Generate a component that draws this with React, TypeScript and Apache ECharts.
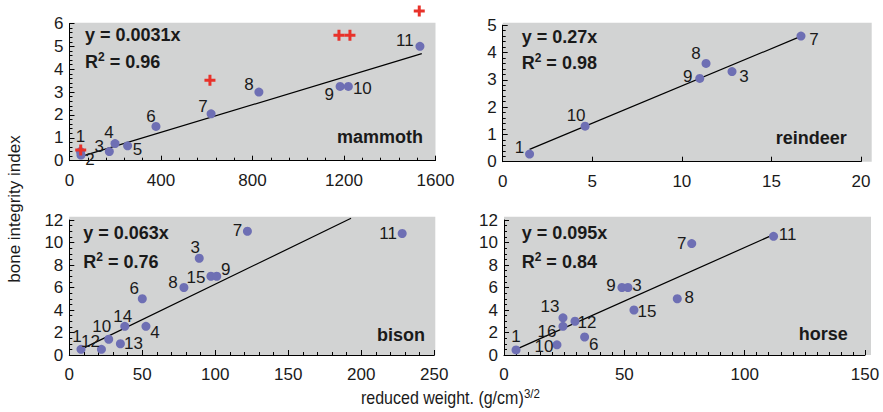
import React, { useEffect, useRef } from "react";
import * as echarts from "echarts";

const FONT = "'Liberation Sans', Arial, Helvetica, sans-serif";

// ---------- data ----------
const mammothNames = ["1", "2", "3", "4", "5", "6", "7", "8", "9", "10", "11"];
const mammothX = [48, 50, 174, 199, 254, 378, 619, 828, 1183, 1219, 1532];
const mammothY = [0.4, 0.25, 0.4, 0.75, 0.65, 1.5, 2.05, 3.0, 3.25, 3.25, 5.0];
const mammothRedX = [49, 614, 1178, 1226, 1529];
const mammothRedY = [0.47, 3.52, 5.49, 5.49, 6.55];
const mammothFitX = [55, 1540];
const mammothFitY = [0.2, 4.68];
const mammothXTicks = [0, 400, 800, 1200, 1600];
const mammothYTicks = [0, 1, 2, 3, 4, 5, 6];
const mammothEq = "y = 0.0031x";
const mammothR2 = "0.96";

const reindeerNames = ["1", "10", "9", "8", "3", "7"];
const reindeerX = [1.5, 4.6, 11.0, 11.35, 12.8, 16.65];
const reindeerY = [0.28, 1.3, 3.05, 3.6, 3.3, 4.6];
const reindeerFitX = [1.5, 16.6];
const reindeerFitY = [0.45, 4.58];
const reindeerXTicks = [0, 5, 10, 15, 20];
const reindeerYTicks = [0, 1, 2, 3, 4, 5];
const reindeerEq = "y = 0.27x";
const reindeerR2 = "0.98";

const bisonNames = ["1", "12", "10", "13", "14", "4", "6", "8", "15", "9", "3", "7", "11"];
const bisonX = [8, 22, 27, 35, 38, 52.5, 50, 78.5, 97, 101, 89, 122, 228];
const bisonY = [0.5, 0.5, 1.4, 1.0, 2.55, 2.55, 5.0, 6.0, 7.0, 7.0, 8.6, 11.0, 10.8];
const bisonFitX = [8, 193];
const bisonFitY = [0.5, 12.15];
const bisonXTicks = [0, 50, 100, 150, 200, 250];
const bisonYTicks = [0, 2, 4, 6, 8, 10, 12];
const bisonEq = "y = 0.063x";
const bisonR2 = "0.76";

const horseNames = ["1", "10", "16", "13", "12", "6", "9", "3", "15", "8", "7", "11"];
const horseX = [5, 22, 24.5, 24.5, 29.5, 33.5, 49, 51.5, 54, 72, 78, 112];
const horseY = [0.45, 0.9, 2.55, 3.3, 3.0, 1.6, 6.0, 6.0, 4.0, 5.0, 9.9, 10.55];
const horseFitX = [5, 112];
const horseFitY = [0.5, 10.7];
const horseXTicks = [0, 50, 100, 150];
const horseYTicks = [0, 2, 4, 6, 8, 10, 12];
const horseEq = "y = 0.095x";
const horseR2 = "0.84";

// ---------- layout (label offsets in px, panel boxes) ----------
const mammothOffsets = [[0, -15], [9, 5], [-10, -5], [-6, -11], [10, 4], [-5, -10], [-8, -7], [-10, -8], [-11, 8], [14, 2], [-15, -6]];
const reindeerOffsets = [[-10, -7], [-9, -11], [-12, -2], [-10, -10], [12, 5], [13, 3]];
const bisonOffsets = [[-4, -13], [-11, -8], [-7, -13], [13, 0], [-2, -10], [9, 6], [-8, -10], [-11, -5], [-15, 1], [9, -7], [-4, -11], [-10, -1], [-14, 0]];
const horseOffsets = [[0, -13], [-13, 2], [-16, 5], [-13, -11], [12, 1], [9, 7], [-11, -2], [9, -2], [13, 1], [12, -1], [-10, 0], [14, -2]];

const panels = [
  {
    name: "mammoth", names: mammothNames, xs: mammothX, ys: mammothY, offs: mammothOffsets,
    fitX: mammothFitX, fitY: mammothFitY, xTicks: mammothXTicks, yTicks: mammothYTicks,
    xMinor: 5, yMinor: 5, eq: mammothEq, r2: mammothR2,
    grid: { left: 69.5, top: 23.5, width: 366, height: 137.2 },
    bg: { x: 69.5, y: 22.7, width: 366, height: 138 },
    eqPos: [85, 35], r2Pos: [85, 62], namePos: [423, 137],
  },
  {
    name: "reindeer", names: reindeerNames, xs: reindeerX, ys: reindeerY, offs: reindeerOffsets,
    fitX: reindeerFitX, fitY: reindeerFitY, xTicks: reindeerXTicks, yTicks: reindeerYTicks,
    xMinor: 0, yMinor: 5, eq: reindeerEq, r2: reindeerR2,
    grid: { left: 502.7, top: 25.2, width: 358.3, height: 136.5 },
    bg: { x: 502.7, y: 22.7, width: 369, height: 139 },
    eqPos: [521.7, 36.7], r2Pos: [521.7, 63], namePos: [846.7, 138.3],
  },
  {
    name: "bison", names: bisonNames, xs: bisonX, ys: bisonY, offs: bisonOffsets,
    fitX: bisonFitX, fitY: bisonFitY, xTicks: bisonXTicks, yTicks: bisonYTicks,
    xMinor: 5, yMinor: 4, eq: bisonEq, r2: bisonR2,
    grid: { left: 69.3, top: 220, width: 365, height: 135 },
    bg: { x: 69.3, y: 216.7, width: 366, height: 138.3 },
    eqPos: [83.3, 233.3], r2Pos: [83.3, 261.7], namePos: [425, 335],
  },
  {
    name: "horse", names: horseNames, xs: horseX, ys: horseY, offs: horseOffsets,
    fitX: horseFitX, fitY: horseFitY, xTicks: horseXTicks, yTicks: horseYTicks,
    xMinor: 10, yMinor: 4, eq: horseEq, r2: horseR2,
    grid: { left: 504, top: 220, width: 361, height: 135 },
    bg: { x: 504, y: 216.7, width: 367, height: 138.3 },
    eqPos: [521.7, 233.3], r2Pos: [521.7, 261.7], namePos: [847.7, 334.3],
  },
];

const PLUS = "path://M4,0H7V4H11V7H7V11H4V7H0V4H4Z";
const DOT = "#6e6fb4";
const BG = "#d2d3d3";

function axisBase(gridIndex: number, ticks: number[], minor: number, margin: number) {
  return {
    type: "value",
    gridIndex,
    min: ticks[0],
    max: ticks[ticks.length - 1],
    interval: ticks[1] - ticks[0],
    axisLine: { show: true, onZero: false, lineStyle: { color: "#000", width: 1 } },
    axisTick: { show: true, inside: true, length: 5, lineStyle: { color: "#000", width: 1 } },
    minorTick: { show: minor > 0, splitNumber: minor || 5, length: 3, lineStyle: { color: "#000", width: 1 } },
    axisLabel: {
      color: "#1a1a1a", fontSize: 17, fontFamily: FONT, margin,
      formatter: (v: number) => String(v),
    },
    splitLine: { show: false },
  };
}

export default function App() {
  const ref = useRef<HTMLDivElement>(null);
  useEffect(() => {
    document.body.style.margin = "0";
    const chart = echarts.init(ref.current as HTMLDivElement, undefined, { renderer: "svg" });

    const grids: any[] = [];
    const xAxes: any[] = [];
    const yAxes: any[] = [];
    const series: any[] = [];
    const graphics: any[] = [];

    panels.forEach((p, i) => {
      grids.push({ ...p.grid, containLabel: false });
      xAxes.push(axisBase(i, p.xTicks, p.xMinor, 11));
      yAxes.push(axisBase(i, p.yTicks, p.yMinor, 6));
      graphics.push({ type: "rect", z: -10, shape: { ...p.bg }, style: { fill: BG }, silent: true });
      series.push({
        type: "line", xAxisIndex: i, yAxisIndex: i, clip: false, symbol: "none", z: 3,
        data: p.fitX.map((x, k) => [x, p.fitY[k]]),
        lineStyle: { color: "#000", width: 1.2 },
      });
      series.push({
        type: "scatter", xAxisIndex: i, yAxisIndex: i, clip: false, z: 4,
        symbolSize: 9, itemStyle: { color: DOT, opacity: 1 },
        data: p.xs.map((x, k) => ({ value: [x, p.ys[k]], name: p.names[k], label: { offset: p.offs[k] } })),
        label: { show: true, position: "inside", formatter: "{b}", fontSize: 17, fontFamily: FONT, color: "#1a1a1a" },
      });
      graphics.push({
        type: "text", z: 10, x: p.eqPos[0], y: p.eqPos[1],
        style: { text: p.eq, font: `bold 18px ${FONT}`, fill: "#1a1a1a", verticalAlign: "middle", align: "left" },
      });
      graphics.push({
        type: "text", z: 10, x: p.r2Pos[0], y: p.r2Pos[1],
        style: {
          text: `{m|R}{s|2}{m| = ${p.r2}}`, verticalAlign: "middle", align: "left",
          rich: {
            m: { fontSize: 18, fontWeight: "bold", fontFamily: FONT, fill: "#1a1a1a", lineHeight: 22, verticalAlign: "middle" },
            s: { fontSize: 12, fontWeight: "bold", fontFamily: FONT, fill: "#1a1a1a", lineHeight: 13, verticalAlign: "top" },
          },
        },
      });
      graphics.push({
        type: "text", z: 10, x: p.namePos[0], y: p.namePos[1],
        style: { text: p.name, font: `bold 18px ${FONT}`, fill: "#1a1a1a", verticalAlign: "middle", align: "right" },
      });
    });

    series.push({
      type: "scatter", xAxisIndex: 0, yAxisIndex: 0, clip: false, z: 5,
      symbol: PLUS, symbolSize: 11, itemStyle: { color: "#e8322a", opacity: 1 },
      data: mammothRedX.map((x, k) => [x, mammothRedY[k]]),
    });

    graphics.push({
      type: "text", z: 10, x: 14, y: 209, rotation: Math.PI / 2,
      style: { text: "bone integrity index", font: `17px ${FONT}`, fill: "#1a1a1a", align: "center", verticalAlign: "middle" },
    });
    graphics.push({
      type: "text", z: 10, x: 361, y: 398, scaleX: 0.89,
      style: {
        text: "{m|reduced weight. (g/cm)}{s|3/2}", align: "left", verticalAlign: "middle",
        rich: {
          m: { fontSize: 18, fontFamily: FONT, fill: "#1a1a1a", lineHeight: 22, verticalAlign: "middle" },
          s: { fontSize: 13, fontFamily: FONT, fill: "#1a1a1a", lineHeight: 12, verticalAlign: "top" },
        },
      },
    });

    chart.setOption({
      animation: false,
      backgroundColor: "#ffffff",
      grid: grids,
      xAxis: xAxes,
      yAxis: yAxes,
      series,
      graphic: { elements: graphics },
    });
    return () => chart.dispose();
  }, []);
  return <div ref={ref} style={{ width: 883, height: 412 }} />;
}
